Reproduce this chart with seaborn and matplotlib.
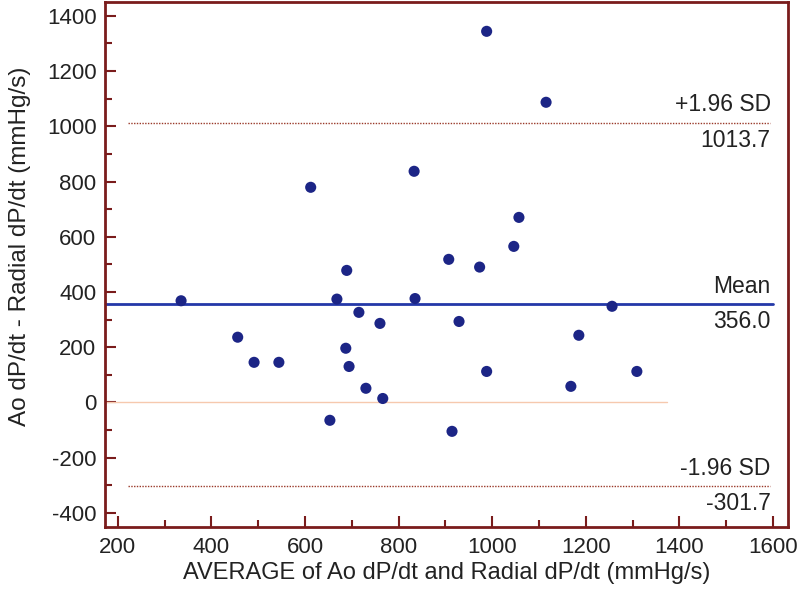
import numpy as np
import pandas as pd
import matplotlib
matplotlib.use("Agg")
import matplotlib.pyplot as plt
from matplotlib.ticker import MultipleLocator
import seaborn as sns


# ==================================
# DATA
# ==================================

avg_vals = [
    612, 689, 335, 668, 988, 1115, 833, 1057, 1046, 907,
    973, 835, 715, 760, 456, 491, 544, 687, 694, 730,
    766, 653, 1256, 929, 1185, 988, 1309, 1168, 914,
]

diff_vals = [
    779, 478, 368, 374, 1344, 1087, 837, 670, 565, 518,
    490, 376, 326, 286, 236, 145, 145, 196, 130, 51,
    14, -65, 348, 293, 243, 112, 112, 58, -105,
]

mean_diff = 356.0
upper_loa = 1013.7
lower_loa = -301.7

df = pd.DataFrame({"avg": avg_vals, "diff": diff_vals})


# ==================================
# STYLE
# ==================================

sns.set_style("white")
plt.rcParams["font.family"] = ["Liberation Sans", "DejaVu Sans"]
plt.rcParams["axes.unicode_minus"] = False

spine_col = "#7a1c1c"
text_col = "#222222"


# ==================================
# PLOT
# ==================================

fig = plt.figure(figsize=(8, 5.96), dpi=100)
ax = fig.add_axes([0.131, 0.116, 0.854, 0.881])

ax.set_xlim(172, 1632)
ax.set_ylim(-451, 1451)

# zero line
ax.axhline(0, xmin=0, xmax=0.823, color="#f6c9ae", lw=1.0, zorder=1)

# limits of agreement
for val in [upper_loa, lower_loa]:
    ax.axhline(val, xmin=0.034, xmax=0.973, color="#9a3a2a",
               lw=1.0, ls=(0, (1, 1)), zorder=1)

# mean line
ax.axhline(mean_diff, xmin=0, xmax=0.978, color="#2438a8", lw=2.0, zorder=2)

sns.scatterplot(
    data=df, x="avg", y="diff", ax=ax,
    color="#1c2586", s=64, edgecolor="none", zorder=3
)

# line labels
tx = 1595
lab_fs = 16.5
for val, top in [(upper_loa, "+1.96 SD"), (mean_diff, "Mean"),
                 (lower_loa, "-1.96 SD")]:
    ax.text(tx, val + 22, top, ha="right", va="bottom",
            fontsize=lab_fs, color=text_col)
    ax.text(tx, val - 22, f"{val:.1f}", ha="right", va="top",
            fontsize=lab_fs, color=text_col)


# ==================================
# AXES
# ==================================

ax.xaxis.set_minor_locator(MultipleLocator(100))
ax.yaxis.set_minor_locator(MultipleLocator(100))

ax.set_xticks(np.arange(200, 1601, 200))
ax.set_yticks(np.arange(-400, 1401, 200))

ax.tick_params(axis="both", which="both", left=True, bottom=True,
               top=False, right=False)
ax.tick_params(axis="both", which="major", direction="in", length=8,
               width=1.5, color=spine_col, labelsize=16,
               labelcolor=text_col)
ax.tick_params(axis="x", which="major", pad=7)
ax.tick_params(axis="y", which="major", pad=6)
ax.tick_params(axis="both", which="minor", direction="in", length=5,
               width=1.5, color=spine_col)

for sp in ax.spines.values():
    sp.set_color(spine_col)
    sp.set_linewidth(2.0)

ax.set_xlabel("AVERAGE of Ao dP/dt and Radial dP/dt (mmHg/s)",
              fontsize=17, color=text_col, labelpad=3)
ax.set_ylabel("Ao dP/dt - Radial dP/dt (mmHg/s)",
              fontsize=17.5, color=text_col)
ax.yaxis.set_label_coords(-0.108, 0.535)

fig.savefig("out.png", dpi=100)
